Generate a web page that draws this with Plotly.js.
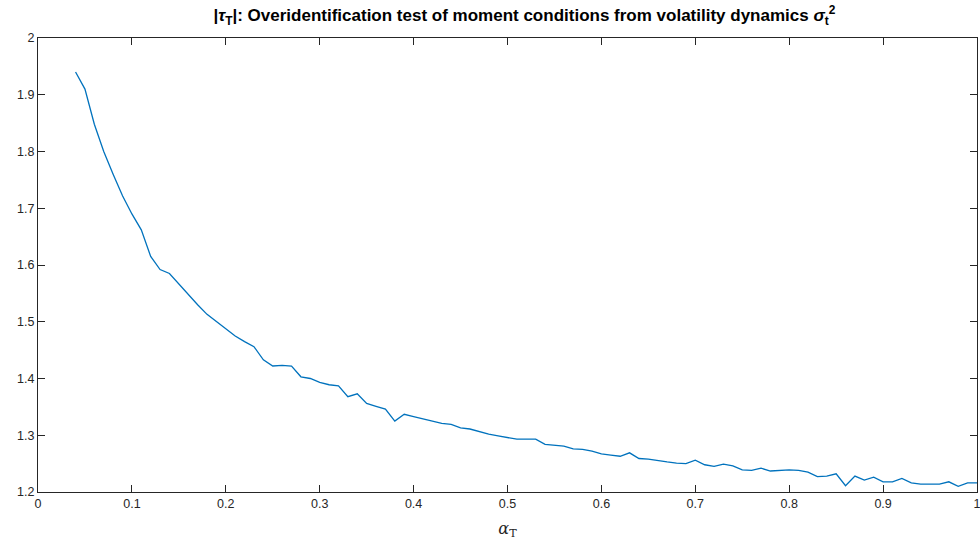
<!DOCTYPE html>
<html>
<head>
<meta charset="utf-8">
<script src="https://cdn.plot.ly/plotly-3.0.1.min.js"></script>
<style>
  html, body { margin: 0; padding: 0; background: #ffffff; }
  #chart { width: 980px; height: 546px; }
</style>
</head>
<body>
<div id="chart"></div>
<script>
// alpha_T grid
const alphaT = [
  0.04, 0.05, 0.06, 0.07, 0.08, 0.09, 0.10, 0.11, 0.12, 0.13,
  0.14, 0.15, 0.16, 0.17, 0.18, 0.19, 0.20, 0.21, 0.22, 0.23,
  0.24, 0.25, 0.26, 0.27, 0.28, 0.29, 0.30, 0.31, 0.32, 0.33,
  0.34, 0.35, 0.36, 0.37, 0.38, 0.39, 0.40, 0.41, 0.42, 0.43,
  0.44, 0.45, 0.46, 0.47, 0.48, 0.49, 0.50, 0.51, 0.52, 0.53,
  0.54, 0.55, 0.56, 0.57, 0.58, 0.59, 0.60, 0.61, 0.62, 0.63,
  0.64, 0.65, 0.66, 0.67, 0.68, 0.69, 0.70, 0.71, 0.72, 0.73,
  0.74, 0.75, 0.76, 0.77, 0.78, 0.79, 0.80, 0.81, 0.82, 0.83,
  0.84, 0.85, 0.86, 0.87, 0.88, 0.89, 0.90, 0.91, 0.92, 0.93,
  0.94, 0.95, 0.96, 0.97, 0.98, 0.99, 1.00
];

// |tau_T| statistic
const tauAbs = [
  1.940, 1.910, 1.848, 1.800, 1.760, 1.722, 1.690, 1.662, 1.615, 1.592,
  1.585, 1.566, 1.548, 1.530, 1.513, 1.500, 1.487, 1.475, 1.465, 1.456,
  1.433, 1.422, 1.423, 1.422, 1.403, 1.400, 1.393, 1.389, 1.387, 1.368,
  1.373, 1.356, 1.351, 1.346, 1.325, 1.337, 1.333, 1.329, 1.325, 1.321,
  1.319, 1.313, 1.311, 1.306, 1.302, 1.299, 1.296, 1.293, 1.293, 1.293,
  1.284, 1.283, 1.281, 1.276, 1.275, 1.272, 1.267, 1.265, 1.263, 1.269,
  1.259, 1.258, 1.255, 1.253, 1.251, 1.250, 1.256, 1.248, 1.245, 1.249,
  1.246, 1.239, 1.238, 1.242, 1.237, 1.238, 1.239, 1.238, 1.235, 1.227,
  1.228, 1.232, 1.211, 1.228, 1.221, 1.226, 1.218, 1.218, 1.224, 1.216,
  1.214, 1.214, 1.214, 1.218, 1.210, 1.216, 1.216
];

const xTicks = [0, 0.1, 0.2, 0.3, 0.4, 0.5, 0.6, 0.7, 0.8, 0.9, 1];
const yTicks = [1.2, 1.3, 1.4, 1.5, 1.6, 1.7, 1.8, 1.9, 2];

const axisColor = '#262626';
const fontFamily = '"Liberation Sans", Arial, Helvetica, sans-serif';

const commonAxis = {
  showgrid: false,
  zeroline: false,
  showline: true,
  linecolor: axisColor,
  linewidth: 1,
  mirror: 'ticks',
  ticks: 'inside',
  ticklen: 7,
  tickwidth: 1,
  tickcolor: axisColor,
  ticklabeloverflow: 'allow',
  tickfont: { family: fontFamily, size: 12.5, color: axisColor }
};

const trace = {
  x: alphaT,
  y: tauAbs,
  type: 'scatter',
  mode: 'lines',
  line: { color: 'rgb(0,114,189)', width: 1.3 },
  hoverinfo: 'x+y'
};

const layout = {
  width: 980,
  height: 546,
  paper_bgcolor: '#ffffff',
  plot_bgcolor: '#ffffff',
  showlegend: false,
  margin: { l: 38, r: 3, t: 38, b: 54 },
  title: {
    text: '<b>|<i>τ</i><sub>T</sub>|: Overidentification test of moment conditions from volatility dynamics <i>σ</i><sub>t</sub><sup>2</sup></b>',
    font: { family: fontFamily, size: 17, color: '#000000' },
    x: 0.518,
    xref: 'paper',
    xanchor: 'center',
    y: 0.972,
    yref: 'container',
    yanchor: 'middle'
  },
  xaxis: Object.assign({}, commonAxis, {
    range: [0, 1],
    tickvals: xTicks,
    ticktext: xTicks.map(String),
    title: {
      text: '<i>α</i><sub>T</sub>',
      font: { family: '"DejaVu Serif", "Liberation Serif", serif', size: 16, color: axisColor },
      standoff: 12
    }
  }),
  yaxis: Object.assign({}, commonAxis, {
    range: [1.2, 2],
    tickvals: yTicks,
    ticktext: yTicks.map(String)
  })
};

Plotly.newPlot('chart', [trace], layout, { displayModeBar: false, staticPlot: true });
</script>
</body>
</html>
